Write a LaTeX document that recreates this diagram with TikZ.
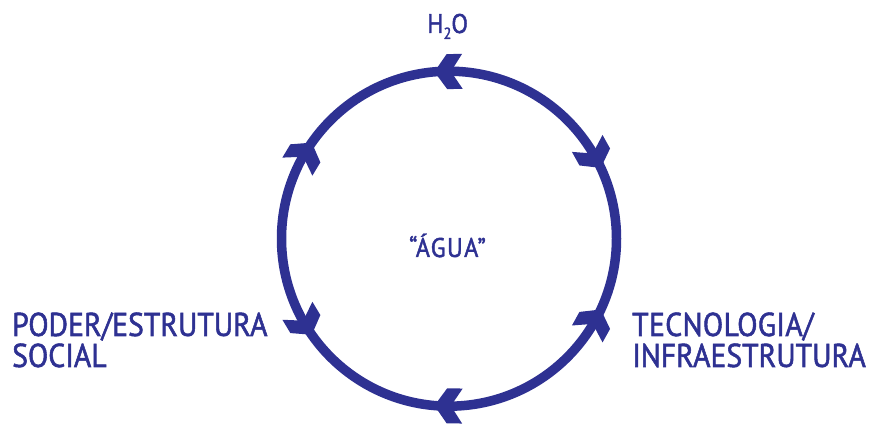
\documentclass[tikz,border=0pt]{standalone}
\usepackage{fontspec}
\setmainfont{PT Sans}[FakeStretch=0.9,FakeBold=1.6]
\usetikzlibrary{calc}
\definecolor{dblue}{HTML}{2E3192}
\begin{document}
\begin{tikzpicture}[x=1pt,y=1pt,
  lbl/.style={inner sep=0pt,anchor=base west,text=dblue,font=\fontsize{33}{36}\selectfont},
  ring/.style={draw=dblue,line width=9.5pt},
  headfill/.style={fill=dblue}]
\useasboundingbox (0,0) rectangle (871,425);
\coordinate (c) at (449,186.3);
\def\R{167.5}
\draw[ring] (c) circle[radius=\R];
% counter-clockwise heads at the three labelled points
\foreach \a in {90,210,330}{
  \pgfmathsetmacro\t{\a+5}
  \fill[headfill,shift={($(c)+(\t:\R)$)},rotate=\t+86]
    (0,0) -- (-12.5,17.5) -- (-28,17.5) -- (-16.5,0) -- (-28,-17.5) -- (-12.5,-17.5) -- cycle;
}
% clockwise heads at the middles of the arcs
\foreach \a in {30,150,270}{
  \pgfmathsetmacro\t{\a-5}
  \fill[headfill,shift={($(c)+(\t:\R)$)},rotate=\t-86]
    (0,0) -- (-12.5,17.5) -- (-28,17.5) -- (-16.5,0) -- (-28,-17.5) -- (-12.5,-17.5) -- cycle;
}
\node[lbl,font=\fontsize{27}{30}\selectfont] (h2o) at (427,392) {H\raisebox{-0.22em}{\fontsize{16}{18}\selectfont 2}O};
\node[lbl,anchor=base,font=\fontsize{27}{30}\selectfont\addfontfeatures{LetterSpace=5}] (agua) at (447.5,168) {“ÁGUA”};
\node[lbl] (p1) at (12,89) {PODER/ESTRUTURA};
\node[lbl] (p2) at (12,58) {SOCIAL};
\node[lbl,font=\fontsize{33}{36}\selectfont\addfontfeatures{LetterSpace=1}] (t1) at (632,89) {TECNOLOGIA/};
\node[lbl] (t2) at (632,58) {INFRAESTRUTURA};
\end{tikzpicture}
\end{document}
